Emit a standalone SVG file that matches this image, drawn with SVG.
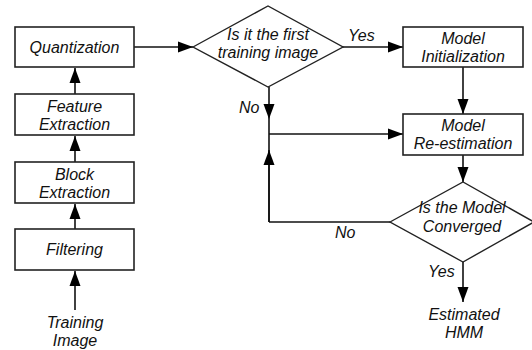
<svg xmlns="http://www.w3.org/2000/svg" width="532" height="350" viewBox="0 0 532 350">
<style>
.box{fill:#fff;stroke:#222;stroke-width:1.6}
.dia{fill:#fff;stroke:#222;stroke-width:1.4}
.t{font-family:"Liberation Sans",Arial,sans-serif;font-style:italic;font-size:16px;fill:#111;text-anchor:middle}
.l{font-family:"Liberation Sans",Arial,sans-serif;font-style:italic;font-size:16px;fill:#111}
.c{fill:none;stroke:#111;stroke-width:1.6}
</style>
<defs>
<marker id="ah" markerUnits="userSpaceOnUse" markerWidth="16" markerHeight="12" refX="15" refY="6" orient="auto">
<path d="M0,0.5 L15,6 L0,11.5 z" fill="#000"/>
</marker>
</defs>
<rect width="532" height="350" fill="#fff"/>
<g id="connectors">
<path class="c" d="M75,310 V271" marker-end="url(#ah)"/>
<path class="c" d="M75,229 V204" marker-end="url(#ah)"/>
<path class="c" d="M75,162 V136" marker-end="url(#ah)"/>
<path class="c" d="M75,94 V68" marker-end="url(#ah)"/>
<path class="c" d="M134,47 H193" marker-end="url(#ah)"/>
<path class="c" d="M343,47 H403" marker-end="url(#ah)"/>
<path class="c" d="M463,67 V114" marker-end="url(#ah)"/>
<path class="c" d="M269,87 V119" marker-end="url(#ah)"/>
<path class="c" d="M269,119 V222"/>
<path class="c" d="M269,222 V150" marker-end="url(#ah)"/>
<path class="c" d="M269,134 H403" marker-end="url(#ah)"/>
<path class="c" d="M269,222 H390"/>
<path class="c" d="M463,155 V182" marker-end="url(#ah)"/>
<path class="c" d="M463,262 V302" marker-end="url(#ah)"/>
<text class="l" x="348" y="41">Yes</text>
<text class="l" x="239" y="113">No</text>
<text class="l" x="335" y="238">No</text>
<text class="l" x="428" y="277">Yes</text>
</g>
<g id="quantization">
<rect class="box" x="15" y="27" width="119" height="40"/>
<text class="t" x="74.5" y="53">Quantization</text>
</g>
<g id="feature-extraction">
<rect class="box" x="15" y="94" width="119" height="41"/>
<text class="t" x="74.5" y="112">Feature</text>
<text class="t" x="74.5" y="130">Extraction</text>
</g>
<g id="block-extraction">
<rect class="box" x="15" y="162" width="119" height="41"/>
<text class="t" x="74.5" y="180">Block</text>
<text class="t" x="74.5" y="198">Extraction</text>
</g>
<g id="filtering">
<rect class="box" x="15" y="229" width="119" height="41"/>
<text class="t" x="74.5" y="255">Filtering</text>
</g>
<g id="training-image">
<text class="t" x="75" y="328">Training</text>
<text class="t" x="75" y="346">Image</text>
</g>
<g id="first-image-decision">
<polygon class="dia" points="193,47 268,6 343,47 268,87"/>
<text class="t" x="268" y="40">Is it the first</text>
<text class="t" x="268" y="58">training image</text>
</g>
<g id="model-initialization">
<rect class="box" x="403" y="27" width="120" height="40"/>
<text class="t" x="463" y="44">Model</text>
<text class="t" x="463" y="62">Initialization</text>
</g>
<g id="model-reestimation">
<rect class="box" x="403" y="114" width="120" height="41"/>
<text class="t" x="463" y="131">Model</text>
<text class="t" x="463" y="149">Re-estimation</text>
</g>
<g id="converged-decision">
<polygon class="dia" points="390,222 463,182 534,222 463,262"/>
<text class="t" x="462" y="213">Is the Model</text>
<text class="t" x="462" y="232">Converged</text>
</g>
<g id="estimated-hmm">
<text class="t" x="464" y="320">Estimated</text>
<text class="t" x="464" y="338">HMM</text>
</g>
</svg>
